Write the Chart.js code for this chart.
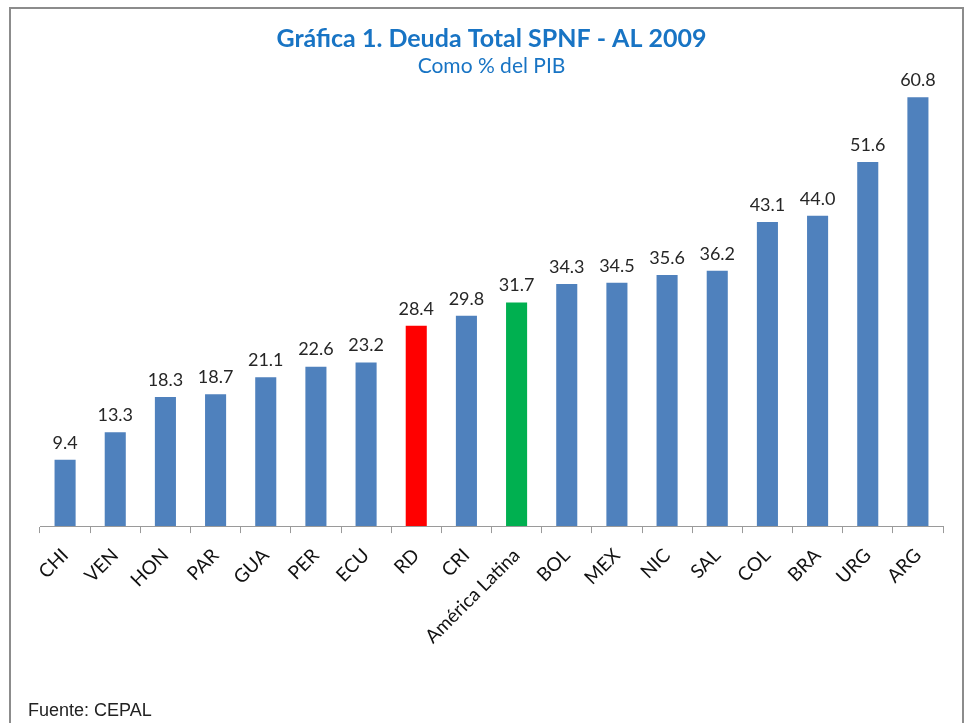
<!DOCTYPE html>
<html>
<head>
<meta charset="utf-8">
<script src="https://cdn.jsdelivr.net/npm/chart.js@4.4.1/dist/chart.umd.min.js"></script>
<style>
  html, body { margin: 0; padding: 0; background: #fff; }
  #wrap { position: relative; width: 972px; height: 723px; }
  #frame { position: absolute; left: 9px; top: 7px; width: 955px; height: 740px; border: 2px solid #8c8c8c; box-sizing: border-box; }
  canvas { position: absolute; left: 0; top: 0; }
  #src { position: absolute; left: 28px; top: 700px; font-family: "Liberation Sans", Arial, sans-serif; font-size: 18px; color: #222; }
</style>
</head>
<body>
<div id="wrap">
  <div id="frame"></div>
  <canvas id="c" width="972" height="723"></canvas>
  <div id="src">Fuente: CEPAL</div>
</div>
<script>
const categories = ["CHI","VEN","HON","PAR","GUA","PER","ECU","RD","CRI","América Latina","BOL","MEX","NIC","SAL","COL","BRA","URG","ARG"];
const debtValues = [9.4, 13.3, 18.3, 18.7, 21.1, 22.6, 23.2, 28.4, 29.8, 31.7, 34.3, 34.5, 35.6, 36.2, 43.1, 44.0, 51.6, 60.8];
const barColors = categories.map(c => c === "RD" ? "#FF0000" : (c === "América Latina" ? "#00B050" : "#4F81BD"));

const valueLabels = {
  id: 'valueLabels',
  afterDatasetsDraw(chart) {
    const ctx = chart.ctx;
    const meta = chart.getDatasetMeta(0);
    ctx.save();
    ctx.font = '18px Lato, "Open Sans", sans-serif';
    ctx.fillStyle = '#262626';
    ctx.textAlign = 'center';
    ctx.textBaseline = 'bottom';
    meta.data.forEach((bar, i) => {
      ctx.fillText(debtValues[i].toFixed(1), bar.x, bar.y - 8);
    });
    ctx.restore();
  }
};

new Chart(document.getElementById('c'), {
  type: 'bar',
  data: {
    labels: categories,
    datasets: [{
      data: debtValues,
      backgroundColor: barColors,
      categoryPercentage: 1,
      barPercentage: 0.42
    }]
  },
  options: {
    responsive: false,
    animation: false,
    devicePixelRatio: 1,
    layout: { padding: { left: 40, right: 29, top: 0, bottom: 64 } },
    plugins: {
      legend: { display: false },
      tooltip: { enabled: false },
      title: {
        display: true,
        text: 'Gráfica 1. Deuda Total SPNF - AL 2009',
        color: '#1874C4',
        font: { family: 'Lato, "DejaVu Sans", sans-serif', size: 25, weight: 'bold' },
        padding: { top: 24, bottom: 0 }
      },
      subtitle: {
        display: true,
        text: 'Como % del PIB',
        color: '#1874C4',
        font: { family: 'Lato, "DejaVu Sans", sans-serif', size: 21 },
        padding: { top: 0, bottom: 6 }
      }
    },
    scales: {
      x: {
        grid: { display: true, offset: true, drawOnChartArea: false, drawTicks: true, tickLength: 7, color: '#9a9a9a' },
        border: { display: true, color: '#9a9a9a', width: 1 },
        ticks: {
          color: '#111',
          font: { family: 'Lato, "Open Sans", sans-serif', size: 19 },
          minRotation: 45, maxRotation: 45, padding: 11, autoSkip: false
        }
      },
      y: {
        display: false,
        min: 0,
        max: 62.5
      }
    }
  },
  plugins: [valueLabels]
});
</script>
</body>
</html>
